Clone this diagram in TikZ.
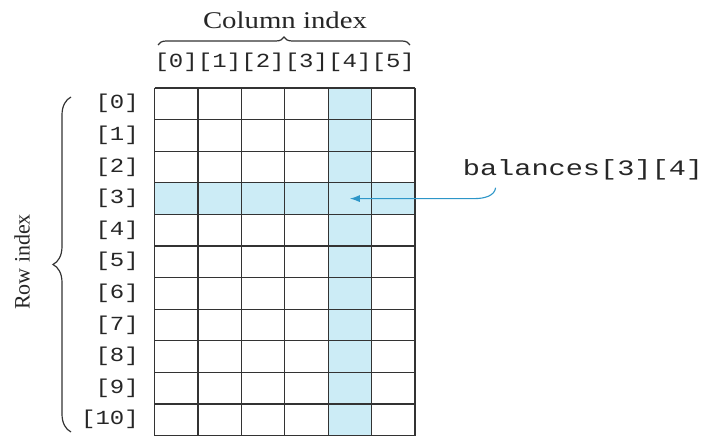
\documentclass[tikz,border=0pt]{standalone}
\usepackage{fontspec}
\setmainfont{Liberation Serif}
\setmonofont{Liberation Mono}
\usetikzlibrary{calc}
\usetikzlibrary{arrows,arrows.meta}
\usetikzlibrary{decorations.pathreplacing}
\definecolor{hilite}{RGB}{204,236,246}
\definecolor{ptrcol}{RGB}{45,150,200}
\colorlet{gridcol}{black!80}
\tikzset{>=latex}
\tikzstyle{gridline}=[draw=gridcol, line width=1.2]
\tikzstyle{idx}=[font=\fontsize{20}{24}\selectfont\ttfamily, text=black!85, xscale=1.2, inner sep=0]
\tikzstyle{lbl}=[font=\fontsize{24}{28}\selectfont, text=black!85, inner sep=0]
\tikzstyle{brc}=[line width=1.2, color=black!80, decorate]
\tikzstyle{ptr}=[%
					line width = 1.1,
					color = ptrcol,
					-{Latex[length=10,width=7]}
					]

\begin{document}
\begin{tikzpicture}[x=1pt,y=-1pt]
  \def\X{154.5} % grid left
  \def\Y{88}    % grid top
  \def\w{43.4}  % column width
  \def\h{31.6}  % row height
  \useasboundingbox (0,0) rectangle (707,436);

  % HIGHLIGHT
  \fill[hilite] (\X+4*\w,\Y) rectangle ++(\w,11*\h);
  \fill[hilite] (\X,\Y+3*\h) rectangle ++(6*\w,\h);

  % GRID
  \foreach \i in {0,...,6}
    \draw[gridline] (\X+\i*\w,\Y) -- ++(0,11*\h);
  \foreach \j in {0,...,11}
    \draw[gridline] (\X,\Y+\j*\h) -- ++(6*\w,0);

  % INDICES
  \foreach \i in {0,...,5}
    \node[idx] (c\i) at (\X+\i*\w+0.5*\w,62) {[\i]};
  \foreach \j in {0,...,10}
    \node[idx,anchor=east] (r\j) at (139,\Y+\j*\h+0.5*\h) {[\j]};

  % BRACES
  \draw[brc,decoration={brace,amplitude=8}] (158,45) -- (410,45);
  \node[lbl,xscale=1.2] (colname) at (285,20) {Column index};
  \draw[brc,decoration={brace,amplitude=18,aspect=0.5}] (71,432) -- (71,97);
  \node[lbl,font=\fontsize{22}{26}\selectfont,rotate=90] (rowname) at (22,262) {Row index};

  % POINTER
  \node[idx,font=\fontsize{22}{26}\selectfont\ttfamily,xscale=1.3/1.2,anchor=base] (bal) at (583,175) {balances[3][4]};
  \coordinate (target) at (\X+4.5*\w,\Y+3.5*\h);
  \draw[ptr] ([xshift=33pt,yshift=-8pt]bal.south west)
    .. controls +(-1,8) and +(10,0) .. ($(target -| bal.west)+(12,0)$) -- (target);
\end{tikzpicture}
\end{document}
